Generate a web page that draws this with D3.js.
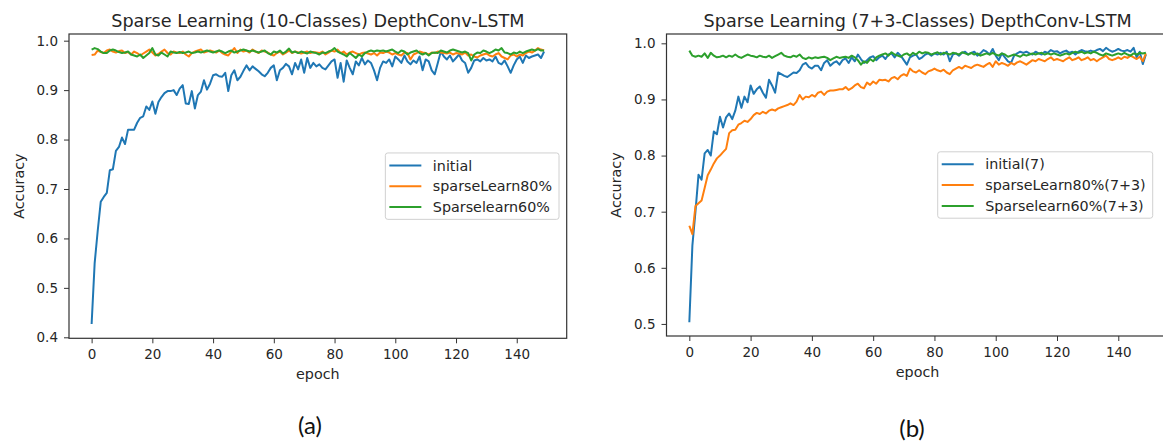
<!DOCTYPE html>
<html>
<head>
  <meta charset="utf-8">
  <title>Sparse Learning DepthConv-LSTM</title>
  <script src="https://d3js.org/d3.v7.min.js"></script>
  <style>
    body { margin: 0; background: #fff; }
    svg { display: block; }
    .tick text { font-family: 'DejaVu Sans', sans-serif; font-size: 13.5px; fill: #262626; }
    .tick line { stroke: #333; stroke-width: 1; }
    .title { font-family: 'DejaVu Sans', sans-serif; font-size: 17.6px; fill: #262626; text-anchor: middle; }
    .axis-label { font-family: 'DejaVu Sans', sans-serif; font-size: 14.3px; fill: #262626; text-anchor: middle; }
    .legend-text { font-family: 'DejaVu Sans', sans-serif; font-size: 14.3px; fill: #262626; }
    .panel-label { font-family: Lato, 'Open Sans', sans-serif; font-size: 24px; fill: #111; text-anchor: middle; }
  </style>
</head>
<body>
<script>
// epochs 0..149
const epochs = d3.range(150);
const xTicks = [0, 20, 40, 60, 80, 100, 120, 140];

// (a) 10 classes
const initialA = [
  0.427, 0.55, 0.615, 0.674, 0.684, 0.692, 0.738, 0.74, 0.777, 0.785,
  0.804, 0.791, 0.82, 0.82, 0.82, 0.834, 0.844, 0.847, 0.867, 0.86,
  0.877, 0.852, 0.876, 0.886, 0.894, 0.898, 0.898, 0.9, 0.89, 0.903,
  0.91, 0.873, 0.872, 0.898, 0.863, 0.89, 0.897, 0.92, 0.901, 0.913,
  0.93, 0.932, 0.928, 0.927, 0.935, 0.898, 0.93, 0.94, 0.92, 0.927,
  0.939, 0.95, 0.94, 0.948, 0.943, 0.938, 0.932, 0.928, 0.935, 0.945,
  0.95, 0.92, 0.94, 0.945, 0.953, 0.948, 0.932, 0.955, 0.942, 0.962,
  0.935, 0.965, 0.945, 0.955, 0.948, 0.952, 0.945, 0.942, 0.95, 0.958,
  0.962, 0.925, 0.955, 0.917, 0.96, 0.945, 0.932, 0.958, 0.95, 0.965,
  0.952, 0.96, 0.955, 0.94, 0.92, 0.945, 0.958, 0.955, 0.962, 0.948,
  0.968, 0.962, 0.955, 0.97, 0.958, 0.952, 0.96, 0.955, 0.968, 0.94,
  0.962, 0.958, 0.94, 0.932, 0.955, 0.978, 0.968, 0.962, 0.97, 0.958,
  0.965, 0.972, 0.96, 0.955, 0.935, 0.945, 0.96, 0.962, 0.958, 0.965,
  0.96, 0.962, 0.958, 0.968, 0.955, 0.952, 0.96, 0.948, 0.935, 0.95,
  0.962, 0.968, 0.955, 0.97, 0.965, 0.968, 0.97, 0.972, 0.965, 0.978
];
const sparse80A = [
  0.971, 0.972, 0.98, 0.977, 0.975, 0.98, 0.982, 0.978, 0.976, 0.979,
  0.98, 0.975, 0.977, 0.972, 0.978, 0.975, 0.97, 0.974, 0.978, 0.982,
  0.976, 0.97, 0.973, 0.978, 0.982, 0.975, 0.972, 0.978, 0.976, 0.975,
  0.978, 0.972, 0.968, 0.975, 0.978, 0.98, 0.982, 0.976, 0.978, 0.98,
  0.978, 0.976, 0.98, 0.975, 0.972, 0.97, 0.978, 0.985, 0.975, 0.982,
  0.978, 0.98, 0.976, 0.982, 0.978, 0.975, 0.98, 0.978, 0.976, 0.972,
  0.97, 0.975, 0.978, 0.972, 0.976, 0.98, 0.975, 0.978, 0.976, 0.974,
  0.976, 0.978, 0.975, 0.977, 0.976, 0.975, 0.978, 0.972, 0.976, 0.98,
  0.978, 0.982, 0.975, 0.978, 0.972, 0.976, 0.978, 0.975, 0.972, 0.975,
  0.976, 0.974, 0.972, 0.975, 0.97, 0.976, 0.975, 0.978, 0.976, 0.972,
  0.975, 0.972, 0.97, 0.976, 0.975, 0.962, 0.972, 0.975, 0.978, 0.976,
  0.975, 0.972, 0.976, 0.975, 0.978, 0.976, 0.975, 0.974, 0.976, 0.972,
  0.975, 0.974, 0.972, 0.976, 0.97, 0.972, 0.968, 0.966, 0.97, 0.972,
  0.974, 0.97, 0.968, 0.972, 0.975, 0.968, 0.965, 0.962, 0.97, 0.972,
  0.968, 0.972, 0.97, 0.975, 0.978, 0.976, 0.98, 0.985, 0.982, 0.98
];
const sparse60A = [
  0.982, 0.985, 0.983, 0.978, 0.975, 0.975, 0.98, 0.982, 0.98, 0.977,
  0.975, 0.976, 0.978, 0.972, 0.97, 0.968, 0.972, 0.965, 0.97, 0.975,
  0.985, 0.972, 0.97, 0.976, 0.972, 0.968, 0.978, 0.976, 0.975, 0.977,
  0.975, 0.976, 0.978, 0.975, 0.976, 0.978, 0.976, 0.978, 0.98, 0.978,
  0.976, 0.978, 0.98, 0.978, 0.975, 0.978, 0.98, 0.976, 0.978, 0.98,
  0.982, 0.98, 0.978, 0.98, 0.978, 0.976, 0.978, 0.98, 0.975, 0.972,
  0.978, 0.976, 0.98, 0.974, 0.978, 0.984, 0.976, 0.978, 0.975, 0.978,
  0.976, 0.974, 0.978, 0.976, 0.975, 0.972, 0.976, 0.975, 0.978, 0.98,
  0.985, 0.978, 0.975, 0.972, 0.968, 0.975, 0.97, 0.965, 0.972, 0.968,
  0.975, 0.978, 0.98, 0.978, 0.98, 0.979, 0.98, 0.978, 0.98, 0.982,
  0.978, 0.975, 0.98, 0.978, 0.972, 0.976, 0.978, 0.98, 0.975, 0.972,
  0.975, 0.97, 0.975, 0.976, 0.975, 0.98, 0.978, 0.976, 0.98, 0.982,
  0.98, 0.978, 0.976, 0.978, 0.975, 0.96, 0.972, 0.976, 0.975, 0.98,
  0.978, 0.975, 0.978, 0.982, 0.98, 0.985, 0.976, 0.975, 0.972, 0.976,
  0.974, 0.978, 0.975, 0.978, 0.98, 0.982, 0.98, 0.983, 0.98, 0.98
];

// (b) 7+3 classes
const initialB = [
  0.503, 0.64, 0.7, 0.766, 0.757, 0.804, 0.81, 0.8, 0.843, 0.838,
  0.869, 0.85, 0.868, 0.875, 0.865, 0.88, 0.905, 0.885, 0.905, 0.895,
  0.925, 0.91, 0.918, 0.923, 0.912, 0.903, 0.935, 0.925, 0.912, 0.948,
  0.945, 0.942, 0.94, 0.944, 0.948, 0.947, 0.952, 0.962, 0.965, 0.958,
  0.955, 0.96, 0.96, 0.952, 0.965, 0.97, 0.96, 0.965, 0.968, 0.962,
  0.97, 0.973, 0.965, 0.975, 0.968, 0.98, 0.972, 0.965, 0.97, 0.975,
  0.977, 0.97, 0.975, 0.978, 0.972, 0.98, 0.982, 0.975, 0.983, 0.978,
  0.97, 0.962, 0.975, 0.978, 0.98, 0.972, 0.975, 0.98, 0.982, 0.978,
  0.982, 0.98, 0.983, 0.98, 0.985, 0.968, 0.98, 0.982, 0.978, 0.983,
  0.985, 0.98, 0.983, 0.985, 0.978, 0.982, 0.988, 0.985, 0.98, 0.99,
  0.978, 0.97, 0.982, 0.975, 0.968, 0.965, 0.978, 0.982, 0.985, 0.983,
  0.985, 0.982, 0.98, 0.985, 0.982, 0.98, 0.985, 0.983, 0.988, 0.985,
  0.986, 0.982, 0.985, 0.987, 0.983, 0.985, 0.98, 0.985, 0.988, 0.986,
  0.985, 0.987, 0.985, 0.988, 0.99, 0.986, 0.992, 0.988, 0.985, 0.987,
  0.99, 0.987, 0.986, 0.988, 0.985, 0.992, 0.975, 0.985, 0.963, 0.98
];
const sparse80B = [
  0.675, 0.66, 0.71, 0.715, 0.72, 0.742, 0.765, 0.775, 0.786, 0.795,
  0.8, 0.806, 0.812, 0.84, 0.845, 0.846, 0.855, 0.858, 0.862, 0.86,
  0.865, 0.872, 0.876, 0.874, 0.878, 0.875, 0.88, 0.882, 0.88, 0.884,
  0.886, 0.888, 0.89, 0.893, 0.89, 0.896, 0.908, 0.9, 0.905, 0.904,
  0.908, 0.905, 0.912, 0.914, 0.908, 0.914, 0.916, 0.916, 0.917, 0.918,
  0.918, 0.922, 0.917, 0.92, 0.925, 0.928, 0.922, 0.92, 0.93, 0.926,
  0.932, 0.928, 0.935, 0.934, 0.935, 0.932, 0.938, 0.94, 0.936, 0.942,
  0.945, 0.942, 0.955, 0.95, 0.948, 0.952, 0.948, 0.945, 0.95, 0.952,
  0.955, 0.952, 0.95, 0.953, 0.948, 0.945, 0.952, 0.955, 0.958, 0.955,
  0.96, 0.958, 0.956, 0.96, 0.962, 0.96, 0.958, 0.962, 0.965, 0.958,
  0.968, 0.962, 0.965, 0.963, 0.96, 0.965, 0.962, 0.966, 0.968, 0.965,
  0.962, 0.966, 0.97, 0.968, 0.972, 0.97, 0.968, 0.972, 0.975, 0.97,
  0.972, 0.97, 0.968, 0.972, 0.975, 0.97, 0.972, 0.975, 0.97, 0.972,
  0.975, 0.97, 0.972, 0.968, 0.972, 0.975, 0.978, 0.972, 0.97, 0.972,
  0.975, 0.972, 0.976, 0.974, 0.978, 0.975, 0.972, 0.976, 0.968, 0.982
];
const sparse60B = [
  0.987, 0.978, 0.976, 0.978, 0.976, 0.982, 0.974, 0.983, 0.978, 0.975,
  0.976, 0.978, 0.975, 0.978, 0.976, 0.98, 0.976, 0.974, 0.977, 0.98,
  0.978, 0.977, 0.975, 0.978, 0.976, 0.975, 0.978, 0.974, 0.977, 0.98,
  0.983, 0.978, 0.976, 0.975, 0.978, 0.976, 0.98, 0.974, 0.972, 0.975,
  0.973, 0.975, 0.974, 0.975, 0.976, 0.974, 0.97, 0.973, 0.976, 0.974,
  0.975, 0.976, 0.974, 0.978, 0.975, 0.97, 0.962, 0.968, 0.965, 0.972,
  0.968, 0.975, 0.978, 0.98, 0.982, 0.978, 0.984, 0.98, 0.978, 0.976,
  0.98, 0.982, 0.978, 0.983, 0.98, 0.985, 0.982, 0.984, 0.983, 0.98,
  0.982, 0.984, 0.98, 0.983, 0.982, 0.98, 0.983, 0.982, 0.98, 0.984,
  0.982, 0.98, 0.983, 0.98, 0.982, 0.978, 0.98, 0.982, 0.98, 0.983,
  0.98, 0.978, 0.982, 0.98, 0.976, 0.978, 0.98, 0.978, 0.976, 0.98,
  0.978, 0.98, 0.982, 0.98, 0.982, 0.983, 0.98, 0.982, 0.98, 0.982,
  0.98, 0.978, 0.98, 0.982, 0.98, 0.983, 0.985, 0.983, 0.985, 0.982,
  0.984, 0.982, 0.985, 0.983, 0.98, 0.978, 0.982, 0.98, 0.978, 0.98,
  0.982, 0.98, 0.983, 0.98, 0.978, 0.982, 0.98, 0.983, 0.982, 0.983
];

const yTicksA = [0.4, 0.5, 0.6, 0.7, 0.8, 0.9, 1.0];
const yTicksB = [0.5, 0.6, 0.7, 0.8, 0.9, 1.0];
const legendA = ['initial', 'sparseLearn80%', 'Sparselearn60%'];
const legendB = ['initial(7)', 'sparseLearn80%(7+3)', 'Sparselearn60%(7+3)'];
const colors = ['#1f77b4', '#ff7f0e', '#2ca02c'];

const W = 1163, H = 443;

const panels = [
  {
    title: 'Sparse Learning (10-Classes) DepthConv-LSTM',
    series: [initialA, sparse80A, sparse60A],
    labels: legendA,
    yTicks: yTicksA,
    yDomain: [0.398, 1.0135],
    box: { x0: 69, x1: 566.7, y0: 34, y1: 338.3 },
    legendRight: 559,
    yLabelX: 23.5,
    tag: '(a)', tagX: 310, tagY: 434
  },
  {
    title: 'Sparse Learning (7+3-Classes) DepthConv-LSTM',
    series: [initialB, sparse80B, sparse60B],
    labels: legendB,
    yTicks: yTicksB,
    yDomain: [0.4785, 1.0166],
    box: { x0: 666.5, x1: 1168.7, y0: 34, y1: 336 },
    legendRight: 1152.7,
    yLabelX: 621,
    tag: '(b)', tagX: 912, tagY: 437
  }
];

const svg = d3.select('body').append('svg')
  .attr('width', W)
  .attr('height', H);

panels.forEach(p => {
  const b = p.box;
  const x = d3.scaleLinear().domain([-7.45, 156.45]).range([b.x0, b.x1]);
  const y = d3.scaleLinear().domain(p.yDomain).range([b.y1, b.y0]);
  const g = svg.append('g');

  // axes
  const xAxis = g.append('g')
    .attr('transform', `translate(0,${b.y1})`)
    .call(d3.axisBottom(x).tickValues(xTicks).tickSize(5).tickPadding(6.5).tickFormat(d3.format('d')));
  xAxis.select('.domain').remove();

  const yAxis = g.append('g')
    .attr('transform', `translate(${b.x0},0)`)
    .call(d3.axisLeft(y).tickValues(p.yTicks).tickSize(5).tickPadding(6).tickFormat(d3.format('.1f')));
  yAxis.select('.domain').remove();

  // lines, clipped to the frame
  const clipId = 'clip' + p.tag.replace(/\W/g, '');
  svg.append('clipPath').attr('id', clipId)
    .append('rect')
    .attr('x', b.x0).attr('y', b.y0)
    .attr('width', b.x1 - b.x0).attr('height', b.y1 - b.y0);

  const line = d3.line()
    .x((d, i) => x(epochs[i]))
    .y(d => y(d));

  g.append('g').attr('clip-path', `url(#${clipId})`)
    .selectAll('path')
    .data(p.series)
    .enter()
    .append('path')
    .attr('d', line)
    .attr('fill', 'none')
    .attr('stroke', (d, i) => colors[i])
    .attr('stroke-width', 2)
    .attr('stroke-linejoin', 'round');

  // frame
  g.append('rect')
    .attr('x', b.x0).attr('y', b.y0)
    .attr('width', b.x1 - b.x0).attr('height', b.y1 - b.y0)
    .attr('fill', 'none')
    .attr('stroke', '#333')
    .attr('stroke-width', 1.2);

  // title + axis labels
  g.append('text').attr('class', 'title')
    .attr('x', (b.x0 + b.x1) / 2).attr('y', 26.5)
    .text(p.title);

  g.append('text').attr('class', 'axis-label')
    .attr('x', (b.x0 + b.x1) / 2).attr('y', b.y1 + 41)
    .text('epoch');

  g.append('text').attr('class', 'axis-label')
    .attr('transform', `translate(${p.yLabelX},${(b.y0 + b.y1) / 2}) rotate(-90)`)
    .text('Accuracy');

  // legend, center right
  const rowH = 20.8;
  const lg = g.append('g');
  const lgText = lg.selectAll('text')
    .data(p.labels)
    .enter()
    .append('text')
    .attr('class', 'legend-text')
    .text(d => d);
  let maxW = 0;
  lgText.each(function () { maxW = Math.max(maxW, this.getComputedTextLength()); });
  const boxW = 47.5 + maxW + 7;
  const boxH = rowH * 3 + 4;
  const lx = p.legendRight - boxW;
  const ly = (b.y0 + b.y1) / 2 - boxH / 2;

  lg.insert('rect', 'text')
    .attr('x', lx).attr('y', ly)
    .attr('width', boxW).attr('height', boxH)
    .attr('rx', 2.5)
    .attr('fill', 'rgba(255,255,255,0.8)')
    .attr('stroke', '#d0d0d0')
    .attr('stroke-width', 1);

  lg.selectAll('line')
    .data(p.labels)
    .enter()
    .append('line')
    .attr('x1', lx + 4).attr('x2', lx + 36)
    .attr('y1', (d, i) => ly + 12.5 + i * rowH)
    .attr('y2', (d, i) => ly + 12.5 + i * rowH)
    .attr('stroke', (d, i) => colors[i])
    .attr('stroke-width', 2);

  lgText
    .attr('x', lx + 47.5)
    .attr('y', (d, i) => ly + 17.6 + i * rowH);

  // panel tag
  svg.append('text').attr('class', 'panel-label')
    .attr('x', p.tagX).attr('y', p.tagY)
    .text(p.tag);
});
</script>
</body>
</html>
